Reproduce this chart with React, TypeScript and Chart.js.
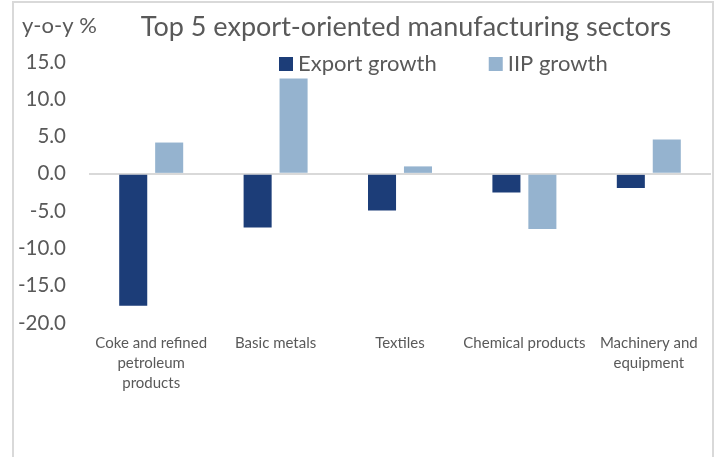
import React, { useEffect, useRef } from "react";
import { Chart, registerables } from "chart.js";

Chart.register(...registerables);

const categories: string[][] = [
  ["Coke and refined", "petroleum", "products"],
  ["Basic metals"],
  ["Textiles"],
  ["Chemical products"],
  ["Machinery and", "equipment"],
];
const exportGrowth = [-17.7, -7.2, -4.9, -2.5, -1.9];
const iipGrowth = [4.2, 12.8, 1.0, -7.4, 4.6];
const yTicks = [-20, -15, -10, -5, 0, 5, 10, 15];
const seriesLabels = ["Export growth", "IIP growth"];
const seriesColors = ["#1c3d78", "#95b3cf"];
const titleText = "Top 5 export-oriented manufacturing sectors";
const yUnitText = "y-o-y %";

const FONT = "Lato, 'Open Sans', sans-serif";
const TEXT = "#595959";

const overlayPlugin = {
  id: "overlay",
  afterDraw(chart: any) {
    const { ctx, chartArea } = chart;
    ctx.save();
    ctx.fillStyle = TEXT;
    ctx.textBaseline = "alphabetic";
    // title
    ctx.font = `27px ${FONT}`;
    ctx.textAlign = "center";
    ctx.fillText(titleText, (chartArea.left + chartArea.right) / 2 + 6, 36);
    // unit label
    ctx.font = `22px ${FONT}`;
    ctx.textAlign = "left";
    ctx.fillText(yUnitText, 22, 33);
    // legend
    let x = chartArea.left + 190;
    chart.data.datasets.forEach((ds: any) => {
      ctx.fillStyle = ds.backgroundColor;
      ctx.fillRect(x, 57, 14, 14);
      ctx.fillStyle = TEXT;
      ctx.font = `22px ${FONT}`;
      ctx.fillText(ds.label, x + 19, 71);
      x += 19 + ctx.measureText(ds.label).width + 52;
    });
    ctx.restore();
  },
};

export default function App() {
  const ref = useRef<HTMLCanvasElement | null>(null);
  useEffect(() => {
    if (!ref.current) return;
    const chart = new Chart(ref.current, {
      type: "bar",
      data: {
        labels: categories,
        datasets: [
          {
            label: seriesLabels[0],
            data: exportGrowth,
            backgroundColor: seriesColors[0],
            categoryPercentage: 0.578,
            barPercentage: 0.78,
          },
          {
            label: seriesLabels[1],
            data: iipGrowth,
            backgroundColor: seriesColors[1],
            categoryPercentage: 0.578,
            barPercentage: 0.78,
          },
        ],
      },
      options: {
        responsive: false,
        animation: false,
        devicePixelRatio: 1,
        layout: { padding: { top: 62, right: 6, left: 0, bottom: 0 } },
        plugins: {
          legend: { display: false },
          title: { display: false },
          tooltip: { enabled: false },
        },
        scales: {
          x: {
            grid: { display: false, drawTicks: false },
            border: { display: false },
            ticks: {
              color: TEXT,
              font: { family: FONT, size: 15, lineHeight: "20px" } as any,
              padding: 10,
              maxRotation: 0,
              autoSkip: false,
            },
            afterFit(scale: any) {
              scale.height = 134;
            },
          },
          y: {
            min: -20,
            max: 15,
            grid: {
              drawTicks: false,
              lineWidth: 2,
              color: (c: any) => (c.tick && c.tick.value === 0 ? "#d9d9d9" : "rgba(0,0,0,0)"),
            },
            border: { display: false },
            afterBuildTicks(scale: any) {
              scale.ticks = yTicks.map((v) => ({ value: v }));
            },
            ticks: {
              color: TEXT,
              font: { family: FONT, size: 20.5 },
              padding: 23,
              callback: (v: any) => Number(v).toFixed(1),
            },
            afterFit(scale: any) {
              scale.width = 89;
            },
          },
        },
      },
      plugins: [overlayPlugin],
    });
    return () => chart.destroy();
  }, []);

  return (
    <div
      style={{
        position: "absolute",
        left: 0,
        top: 0,
        width: 717,
        height: 457,
        background: "#fff",
        overflow: "hidden",
      }}
    >
      <div
        style={{
          position: "absolute",
          left: 12,
          top: 1,
          width: 702,
          height: 500,
          border: "2px solid #d9d9d9",
          boxSizing: "border-box",
        }}
      />
      <canvas
        ref={ref}
        width={717}
        height={457}
        style={{ position: "absolute", left: 0, top: 0, width: 717, height: 457 }}
      />
    </div>
  );
}
